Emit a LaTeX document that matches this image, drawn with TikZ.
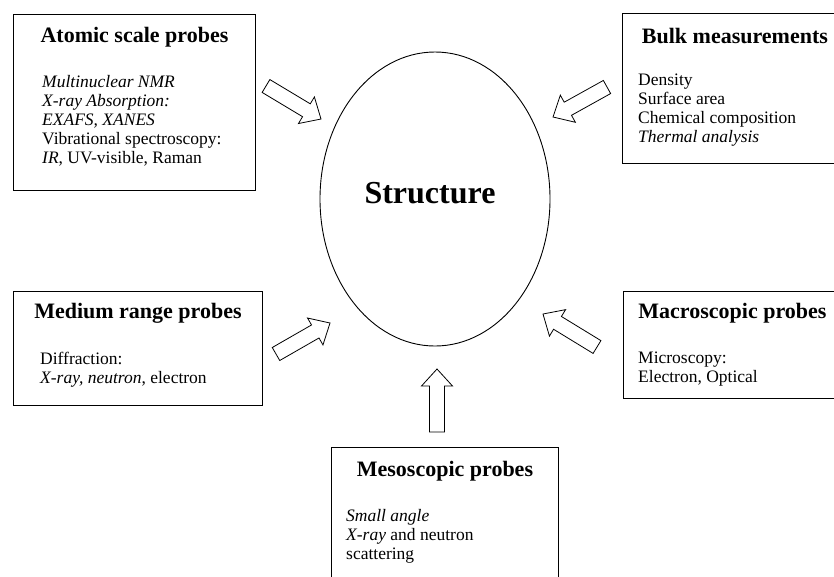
\documentclass[tikz,border=0pt]{standalone}
\usepackage{fontspec}
\setmainfont{Liberation Serif}
\usetikzlibrary{calc,positioning,shapes.geometric}

% hollow block arrow from tail #1 to tip #2
\newcommand{\blockarrow}[2]{%
  \coordinate (hb) at ($(#2)!17pt!(#1)$);
  \draw[arr] ($(#1)!7.5pt!90:(#2)$) -- ($(hb)!7.5pt!90:(#2)$) -- ($(hb)!15.5pt!90:(#2)$) -- (#2)
    -- ($(hb)!15.5pt!-90:(#2)$) -- ($(hb)!7.5pt!-90:(#2)$) -- ($(#1)!7.5pt!-90:(#2)$) -- cycle;}

\begin{document}
\begin{tikzpicture}[x=1pt,y=-1pt,
  probe/.style={draw,line width=0.9pt,anchor=north west,inner sep=0pt},
  ptitle/.style={inner sep=0pt,font=\fontsize{22}{26}\selectfont\bfseries},
  pbody/.style={inner sep=0pt,anchor=north west,align=left,font=\fontsize{17.5}{19}\selectfont},
  arr/.style={draw,line width=0.8pt,fill=white,line join=miter}]
\useasboundingbox (0,0) rectangle (834,576);

% centre
\node[draw,ellipse,line width=0.9pt,minimum width=230pt,minimum height=294pt,inner sep=0pt] (core) at (435,199) {};
\node[inner sep=0pt,font=\fontsize{32}{38}\selectfont\bfseries] (structure) at (430,193) {Structure};

% boxes
\node[probe,minimum width=242pt,minimum height=176pt] (atomic) at (13,14) {};
\node[ptitle] (atomicT) at ([yshift=-23pt]atomic.north) {Atomic scale probes};
\node[pbody] (atomicB) at ([xshift=29pt,yshift=-61pt]atomic.north west)
  {\textit{Multinuclear NMR}\\ \textit{X-ray Absorption:}\\ \textit{EXAFS, XANES}\\
   Vibrational spectroscopy:\\ \textit{IR}, UV-visible, Raman};

\node[probe,minimum width=225pt,minimum height=150pt] (bulk) at (622,13) {};
\node[ptitle] (bulkT) at ([yshift=-23pt]bulk.north) {Bulk measurements};
\node[pbody] (bulkB) at ([xshift=16pt,yshift=-61pt]bulk.north west)
  {Density\\ Surface area\\ Chemical composition\\ \textit{Thermal analysis}};

\node[probe,minimum width=249pt,minimum height=114pt] (medium) at (13,291) {};
\node[ptitle] (mediumT) at ([yshift=-22pt]medium.north) {Medium range probes};
\node[pbody] (mediumB) at ([xshift=27pt,yshift=-61pt]medium.north west)
  {Diffraction:\\ \textit{X-ray, neutron}, electron};

\node[probe,minimum width=218pt,minimum height=107pt] (macro) at (623,291) {};
\node[ptitle] (macroT) at ([yshift=-22pt]macro.north) {Macroscopic probes};
\node[pbody] (macroB) at ([xshift=15pt,yshift=-61pt]macro.north west)
  {Microscopy:\\ Electron, Optical};

\node[probe,minimum width=227pt,minimum height=150pt] (meso) at (331,447) {};
\node[ptitle] (mesoT) at ([yshift=-24pt]meso.north) {Mesoscopic probes};
\node[pbody] (mesoB) at ([xshift=15pt,yshift=-62pt]meso.north west)
  {\textit{Small angle}\\ \textit{X-ray} and neutron\\ scattering};

% arrows
\coordinate (atomicA) at (266,86);  \coordinate (atomicP) at (321,119);
\coordinate (bulkA) at (607,87);    \coordinate (bulkP) at (553,117);
\coordinate (mediumA) at (276,354); \coordinate (mediumP) at (330,323);
\coordinate (macroA) at (597,347);  \coordinate (macroP) at (543,314);
\coordinate (mesoA) at (437,432);   \coordinate (mesoP) at (437,369);
\blockarrow{atomicA}{atomicP}
\blockarrow{bulkA}{bulkP}
\blockarrow{mediumA}{mediumP}
\blockarrow{macroA}{macroP}
\blockarrow{mesoA}{mesoP}
\end{tikzpicture}
\end{document}
